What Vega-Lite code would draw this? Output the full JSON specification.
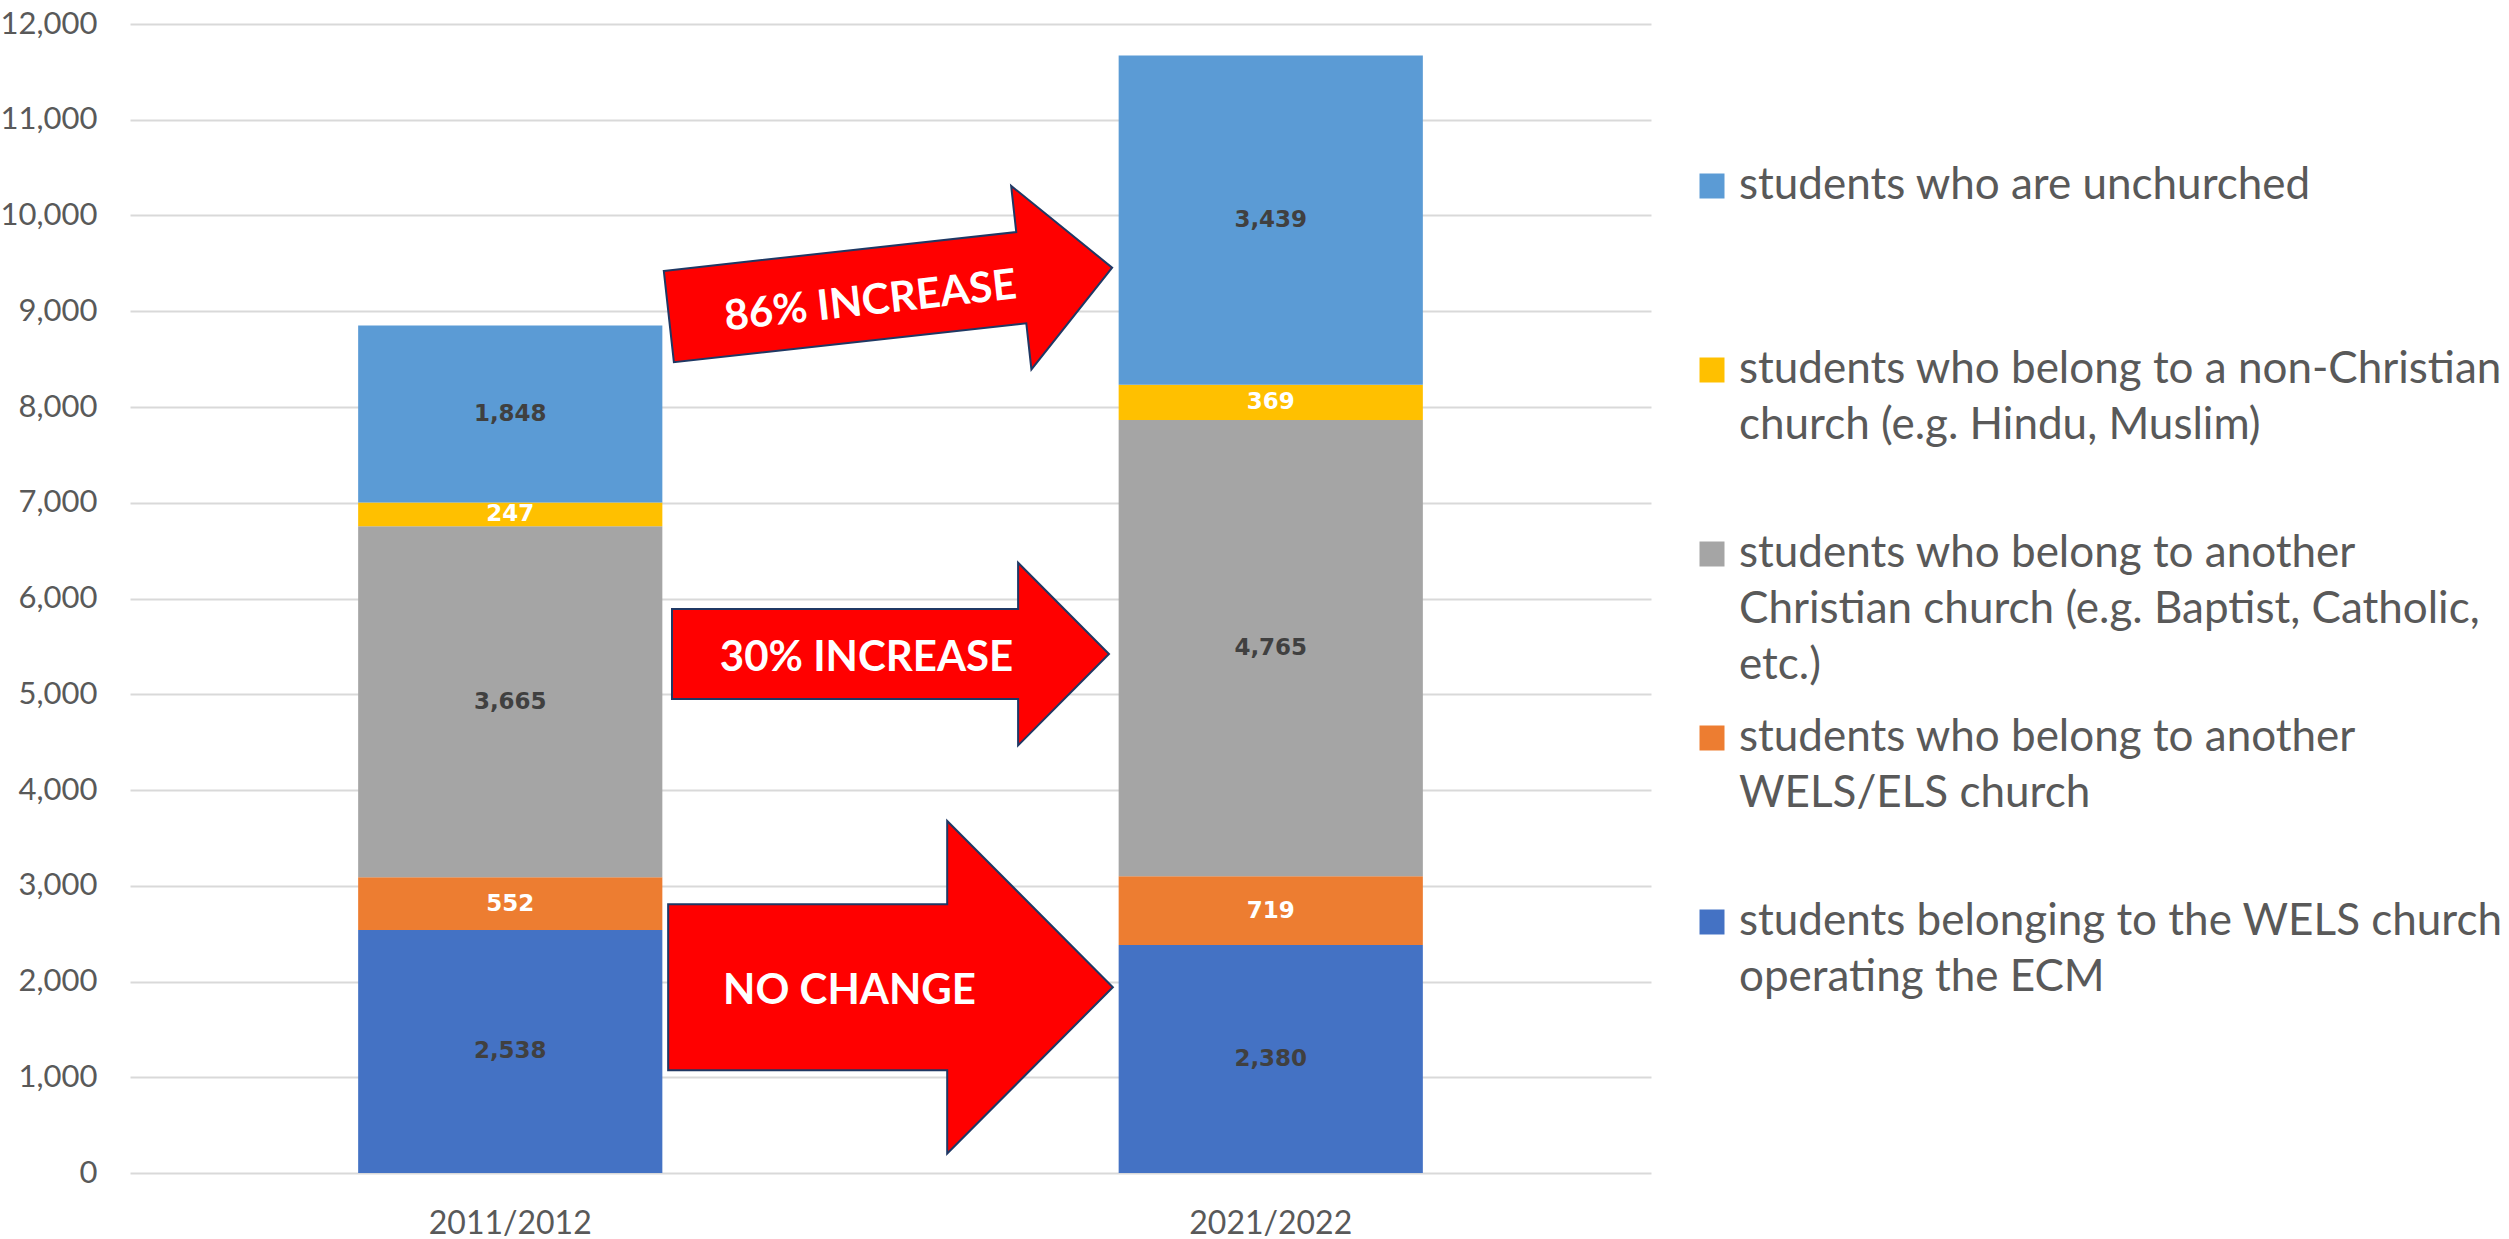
{
  "$schema": "https://vega.github.io/schema/vega-lite/v6.json",
  "width": 1521,
  "height": 1149,
  "autosize": {"type": "none"},
  "padding": {"left": 130, "top": 24, "right": 858, "bottom": 66},
  "background": "white",
  "config": {
    "view": {"stroke": null},
    "font": "Lato",
    "axisY": {
      "title": null, "tickCount": 12, "format": ",.0f", "domain": false, "ticks": false, "tickSize": 0,
      "gridColor": "#d9d9d9", "gridWidth": 2,
      "labelFont": "Lato", "labelFontSize": 31, "labelColor": "#595959", "labelPadding": 33
    }
  },
  "datasets": {
    "bars": [
      {"year": "2011/2012", "category": "students belonging to the WELS church operating the ECM", "rank": 1, "value": 2538},
      {"year": "2011/2012", "category": "students who belong to another WELS/ELS church", "rank": 2, "value": 552},
      {"year": "2011/2012", "category": "students who belong to another Christian church (e.g. Baptist, Catholic, etc.)", "rank": 3, "value": 3665},
      {"year": "2011/2012", "category": "students who belong to a non-Christian church (e.g. Hindu, Muslim)", "rank": 4, "value": 247},
      {"year": "2011/2012", "category": "students who are unchurched", "rank": 5, "value": 1848},
      {"year": "2021/2022", "category": "students belonging to the WELS church operating the ECM", "rank": 1, "value": 2380},
      {"year": "2021/2022", "category": "students who belong to another WELS/ELS church", "rank": 2, "value": 719},
      {"year": "2021/2022", "category": "students who belong to another Christian church (e.g. Baptist, Catholic, etc.)", "rank": 3, "value": 4765},
      {"year": "2021/2022", "category": "students who belong to a non-Christian church (e.g. Hindu, Muslim)", "rank": 4, "value": 369},
      {"year": "2021/2022", "category": "students who are unchurched", "rank": 5, "value": 3439}
    ],
    "notes": [
      {"note": "86% INCREASE", "pos": 1, "level": 9200},
      {"note": "30% INCREASE", "pos": 1, "level": 5420},
      {"note": "NO CHANGE", "pos": 1, "level": 1940}
    ]
  },
  "resolve": {"scale": {"x": "independent"}},
  "layer": [
    {
      "data": {"name": "bars"},
      "layer": [
        {
          "mark": {"type": "bar"},
          "encoding": {
            "x": {
              "field": "year", "type": "nominal",
              "scale": {"paddingInner": 0.6, "paddingOuter": 0.3},
              "axis": {
                "title": null, "labelAngle": 0, "domain": false, "ticks": false, "tickSize": 0,
                "labelFont": "Lato", "labelFontSize": 32, "labelColor": "#595959", "labelPadding": 35
              }
            },
            "y": {
              "field": "value", "type": "quantitative", "stack": "zero",
              "scale": {"domain": [0, 12000]},
              "axis": {"title": null, "format": ",.0f", "tickCount": 12}
            },
            "color": {
              "field": "category", "type": "nominal",
              "scale": {
                "domain": [
                  "students who are unchurched",
                  "students who belong to a non-Christian church (e.g. Hindu, Muslim)",
                  "students who belong to another Christian church (e.g. Baptist, Catholic, etc.)",
                  "students who belong to another WELS/ELS church",
                  "students belonging to the WELS church operating the ECM"
                ],
                "range": ["#5B9BD5", "#FFC000", "#A5A5A5", "#ED7D31", "#4472C4"]
              },
              "legend": {
                "title": null, "orient": "none", "legendX": 1560, "legendY": 140,
                "padding": 0, "symbolType": "square", "symbolSize": 625, "symbolStrokeWidth": 0,
                "labelFont": "Lato", "labelFontSize": 44, "labelColor": "#595959",
                "labelLimit": 3000, "labelOffset": 5, "labelBaseline": "top", "rowPadding": 28,
                "labelExpr": "datum.label == 'students who are unchurched' ? ['students who are unchurched', '', ''] : datum.label == 'students who belong to a non-Christian church (e.g. Hindu, Muslim)' ? ['students who belong to a non-Christian', 'church (e.g. Hindu, Muslim)', ''] : datum.label == 'students who belong to another Christian church (e.g. Baptist, Catholic, etc.)' ? ['students who belong to another', 'Christian church (e.g. Baptist, Catholic,', 'etc.)'] : datum.label == 'students who belong to another WELS/ELS church' ? ['students who belong to another', 'WELS/ELS church', ''] : ['students belonging to the WELS church', 'operating the ECM', '']",
                "encode": {"labels": {"update": {"dy": {"value": -22}, "lineHeight": {"value": 56}}}}
              }
            },
            "order": {"field": "rank", "type": "quantitative"}
          }
        },
        {
          "mark": {"type": "text", "font": "DejaVu Sans", "fontWeight": "bold", "fontSize": 23, "baseline": "middle"},
          "encoding": {
            "x": {"field": "year", "type": "nominal"},
            "y": {"field": "value", "type": "quantitative", "stack": "zero", "bandPosition": 0.5},
            "detail": {"field": "category"},
            "order": {"field": "rank", "type": "quantitative"},
            "text": {"field": "value", "type": "quantitative", "format": ","},
            "color": {
              "condition": {"test": "datum.rank == 2 || datum.rank == 4", "value": "#ffffff"},
              "value": "#404040"
            }
          }
        }
      ]
    },
    {
      "data": {"name": "notes"},
      "encoding": {
        "x": {"field": "pos", "type": "quantitative", "scale": {"domain": [0, 2]}, "axis": null},
        "y": {"field": "level", "type": "quantitative", "axis": {"title": null, "format": ",.0f", "tickCount": 12}}
      },
      "layer": [
        {
          "transform": [{"filter": "datum.note == '86% INCREASE'"}],
          "layer": [
            {
              "mark": {"type": "point", "shape": "M -1 -0.206 L 0.59 -0.206 L 0.59 -0.414 L 1 0 L 0.59 0.414 L 0.59 0.206 L -1 0.206 Z", "size": 198916, "angle": -6.3, "filled": true, "fill": "#FF0000", "stroke": "#1F3864", "strokeWidth": 2, "opacity": 1}
            },
            {
              "mark": {"type": "text", "font": "Lato", "fontWeight": "bold", "fontSize": 42, "color": "#ffffff", "angle": -6.3, "dx": -21, "dy": 7, "baseline": "middle"},
              "encoding": {"text": {"field": "note"}}
            }
          ]
        },
        {
          "transform": [{"filter": "datum.note == '30% INCREASE'"}],
          "layer": [
            {
              "mark": {"type": "point", "shape": "M -1 -0.206 L 0.584 -0.206 L 0.584 -0.418 L 1 0 L 0.584 0.418 L 0.584 0.206 L -1 0.206 Z", "size": 190969, "filled": true, "fill": "#FF0000", "stroke": "#1F3864", "strokeWidth": 2, "opacity": 1}
            },
            {
              "mark": {"type": "text", "font": "Lato", "fontWeight": "bold", "fontSize": 42, "color": "#ffffff", "dx": -24, "dy": 4, "baseline": "middle"},
              "encoding": {"text": {"field": "note"}}
            }
          ]
        },
        {
          "transform": [{"filter": "datum.note == 'NO CHANGE'"}],
          "layer": [
            {
              "mark": {"type": "point", "shape": "M -1 -0.373 L 0.255 -0.373 L 0.255 -0.748 L 1 0 L 0.255 0.748 L 0.255 0.373 L -1 0.373 Z", "size": 197758, "filled": true, "fill": "#FF0000", "stroke": "#1F3864", "strokeWidth": 2, "opacity": 1}
            },
            {
              "mark": {"type": "text", "font": "Lato", "fontWeight": "bold", "fontSize": 42, "color": "#ffffff", "dx": -41, "dy": 4, "baseline": "middle"},
              "encoding": {"text": {"field": "note"}}
            }
          ]
        }
      ]
    }
  ]
}
